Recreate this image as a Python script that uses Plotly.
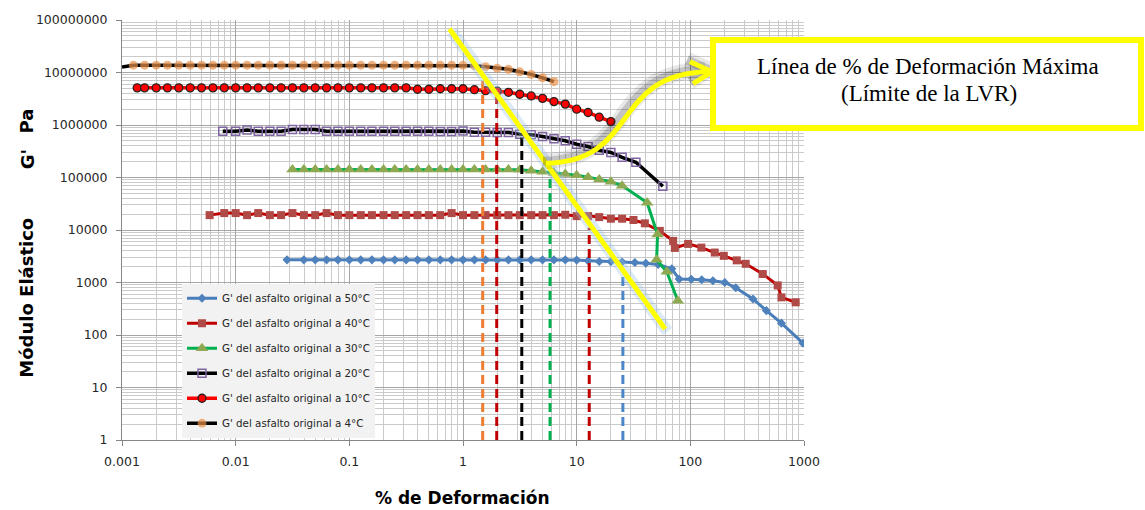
import plotly.graph_objects as go

# ---- Strain sweep data: % strain vs storage modulus G' (Pa) ----
strain_50 = [0.0283, 0.0398, 0.0501, 0.0631, 0.0794, 0.1, 0.126, 0.158, 0.2, 0.251, 0.316, 0.398,
             0.501, 0.631, 0.794, 1.0, 1.26, 1.58, 2.0, 2.51, 3.16, 3.98, 5.01, 6.31, 7.94, 10.0,
             12.6, 15.8, 20.0, 25.1, 32.5, 40.6, 52.1, 68.7, 79.7, 102, 126, 158, 201, 251, 356,
             467, 633, 980]
g_50 = [2700, 2700, 2700, 2700, 2700, 2700, 2700, 2700, 2700, 2700, 2700, 2700,
        2700, 2700, 2700, 2700, 2700, 2700, 2700, 2700, 2700, 2700, 2700, 2700, 2700, 2670,
        2600, 2520, 2500, 2450, 2400, 2320, 2200, 1820, 1160, 1150, 1130, 1080, 1000, 794, 486,
        291, 168, 70]

strain_40 = [0.0059, 0.00794, 0.01, 0.0126, 0.0158, 0.02, 0.0251, 0.0316, 0.0398, 0.0501, 0.0631,
             0.0794, 0.1, 0.126, 0.158, 0.2, 0.251, 0.316, 0.398, 0.501, 0.631, 0.794, 1.0, 1.26,
             1.58, 2.0, 2.51, 3.16, 3.98, 5.01, 6.31, 7.94, 10.0, 12.6, 15.8, 20.0, 25.1, 31.6,
             39.8, 53.9, 70.6, 73.1, 95.7, 125, 164, 197, 256, 307, 434, 587, 633, 845]
g_40 = [19200, 21000, 21000, 19200, 21000, 19200, 19200, 21000, 19200, 19200, 21000,
        19200, 19200, 19200, 19200, 19200, 19200, 19200, 19200, 19200, 19200, 21000, 19200, 19200,
        19200, 19200, 19200, 19200, 19200, 19200, 19200, 19500, 18400, 18400, 17600, 16400, 16400, 15500,
        13400, 9600, 6200, 4560, 5430, 4620, 3720, 3220, 2640, 2270, 1450, 880, 521, 419]

strain_30 = [0.0316, 0.0398, 0.0501, 0.0631, 0.0794, 0.1, 0.126, 0.158, 0.2, 0.251, 0.316, 0.398,
             0.501, 0.631, 0.794, 1.0, 1.26, 1.58, 2.0, 2.51, 3.16, 3.98, 5.01, 6.31, 7.94, 10.0,
             12.6, 15.8, 20.0, 25.1, 41.7, 51.5, 50.5, 62.1, 77.6]
g_30 = [142000, 142000, 142000, 142000, 142000, 142000, 142000, 142000, 142000, 142000, 142000, 142000,
        142000, 142000, 142000, 142000, 142000, 142000, 142000, 142000, 140000, 135000, 128000, 122000,
        117000, 110000, 101000, 92000, 83000, 70000, 33000, 8200, 2700, 1600, 450]

strain_20 = [0.0077, 0.01, 0.0126, 0.0158, 0.02, 0.0251, 0.0316, 0.0398, 0.0501, 0.0631, 0.0794, 0.1,
             0.126, 0.158, 0.2, 0.251, 0.316, 0.398, 0.501, 0.631, 0.794, 1.0, 1.26, 1.58, 2.0,
             2.51, 3.16, 3.98, 5.01, 6.31, 7.94, 10.0, 12.6, 15.8, 20.0, 25.1, 33.2, 57.3]
g_20 = [760000, 760000, 800000, 760000, 760000, 760000, 820000, 820000, 820000, 760000, 760000, 760000,
        760000, 760000, 760000, 760000, 760000, 760000, 760000, 750000, 750000, 770000, 730000, 730000,
        720000, 720000, 670000, 650000, 605000, 550000, 500000, 430000, 390000, 330000, 300000, 242000,
        195000, 68000]

strain_10 = [0.00136, 0.00158, 0.002, 0.00251, 0.00316, 0.00398, 0.00501, 0.00631, 0.00794, 0.01,
             0.0126, 0.0158, 0.02, 0.0251, 0.0316, 0.0398, 0.0501, 0.0631, 0.0794, 0.1, 0.126, 0.158,
             0.2, 0.251, 0.316, 0.398, 0.501, 0.631, 0.794, 1.0, 1.26, 1.58, 2.0, 2.51, 3.16, 3.98,
             5.01, 6.31, 7.94, 10.0, 12.6, 15.8, 20.0]
g_10 = [5100000, 5100000, 5100000, 5100000, 5100000, 5100000, 5100000, 5100000, 5100000, 5100000,
        5100000, 5100000, 5100000, 5100000, 5100000, 5100000, 5100000, 5100000, 5100000, 5100000,
        5100000, 5100000, 5100000, 5100000, 5100000, 4800000, 4800000, 4900000, 4900000, 4900000,
        4700000, 4500000, 4400000, 4200000, 3850000, 3580000, 3220000, 2790000, 2500000, 2000000,
        1730000, 1410000, 1160000]

strain_4 = [0.001, 0.00126, 0.00158, 0.002, 0.00251, 0.00316, 0.00398, 0.00501, 0.00631, 0.00794,
            0.01, 0.0126, 0.0158, 0.02, 0.0251, 0.0316, 0.0398, 0.0501, 0.0631, 0.0794, 0.1, 0.126,
            0.158, 0.2, 0.251, 0.316, 0.398, 0.501, 0.631, 0.794, 1.0, 1.26, 1.58, 2.0, 2.51, 3.16,
            3.98, 5.01, 6.31]
g_4 = [12700000, 13800000, 13800000, 13800000, 13800000, 13800000, 13800000, 13800000, 13800000,
       13800000, 13800000, 13800000, 13800000, 13800000, 13800000, 13800000, 13800000, 13800000,
       13800000, 13800000, 13800000, 13800000, 13800000, 13800000, 13800000, 13800000, 13800000,
       13800000, 13800000, 13800000, 13800000, 13400000, 12900000, 12000000, 11500000, 10300000,
       9200000, 7900000, 6700000]

series_names = ["G' del asfalto original a 50°C", "G' del asfalto original a 40°C",
                "G' del asfalto original a 30°C", "G' del asfalto original a 20°C",
                "G' del asfalto original a 10°C", "G' del asfalto original a 4°C"]

# Maximum strain of the linear viscoelastic range per temperature (dashed drop lines)
lvr_strain = [25.5, 12.9, 5.83, 3.29, 1.98, 1.49]
lvr_top = [1450, 11000, 100000, 580000, 4400000, 7300000]
lvr_colors = ["#4A86C8", "#C00000", "#00B050", "#000000", "#C00000", "#ED7D31"]

# Line joining the LVR limits
limit_x = [0.76, 60]
limit_y = [6.8e7, 130]

x_ticks = [0.001, 0.01, 0.1, 1, 10, 100, 1000]
x_ticktext = ["0.001", "0.01", "0.1", "1", "10", "100", "1000"]
y_ticks = [1, 10, 100, 1000, 10000, 100000, 1000000, 10000000, 100000000]
y_ticktext = ["1", "10", "100", "1000", "10000", "100000", "1000000", "10000000", "100000000"]

W, H = 1145, 510
ML, MR, MT, MB = 122, 341, 18, 70
PW, PH = W - ML - MR, H - MT - MB


def paper(px, py):
    return (px - ML) / PW, (H - MB - py) / PH


def path(cmds):
    out = []
    for c in cmds:
        if isinstance(c, str):
            out.append(c)
        else:
            x, y = paper(*c)
            out.append(f"{x:.5f},{y:.5f}")
    return " ".join(out)


fig = go.Figure()

styles = [
    dict(line=dict(color="#4A7EBB", width=3),
         marker=dict(symbol="diamond", size=7, color="#4F81BD", line=dict(width=0))),
    dict(line=dict(color="#C00000", width=3),
         marker=dict(symbol="square", size=8, color="#B04A47", line=dict(width=0))),
    dict(line=dict(color="#00B050", width=3),
         marker=dict(symbol="triangle-up", size=11, color="#8FA852", line=dict(width=0))),
    dict(line=dict(color="#000000", width=3.5),
         marker=dict(symbol="square-open", size=8, color="#7F64A2", line=dict(width=1.5))),
    dict(line=dict(color="#FF0000", width=3.5),
         marker=dict(symbol="circle", size=8, color="#FF0000", line=dict(color="#222222", width=1.3))),
    dict(line=dict(color="#000000", width=3.5),
         marker=dict(symbol="circle", size=9, color="#E8914A", line=dict(width=0))),
]
data = [(strain_50, g_50), (strain_40, g_40), (strain_30, g_30),
        (strain_20, g_20), (strain_10, g_10), (strain_4, g_4)]

for i, ((xs, ys), name, st) in enumerate(zip(data, series_names, styles)):
    mk = dict(st["marker"])
    if i == 5:
        mk["size"] = [0] + [9] * (len(xs) - 1)
    fig.add_trace(go.Scatter(x=xs, y=ys, mode="lines+markers", name=name,
                             line=st["line"], marker=mk, legendgroup=f"g{i}"))

# dashed drop lines at the LVR limit
for s, top, col in zip(lvr_strain, lvr_top, lvr_colors):
    fig.add_trace(go.Scatter(x=[s, s], y=[1, top], mode="lines", showlegend=False,
                             hoverinfo="skip",
                             line=dict(color=col, width=3, dash="9px,5px")))

# limit line with soft blue glow
fig.add_trace(go.Scatter(x=[v * 1.05 for v in limit_x], y=[v * 0.9 for v in limit_y],
                         mode="lines", showlegend=False, hoverinfo="skip",
                         line=dict(color="rgba(155,194,236,0.35)", width=12)))
fig.add_trace(go.Scatter(x=limit_x, y=limit_y, mode="lines", showlegend=False,
                         hoverinfo="skip", line=dict(color="#FFFF00", width=5)))

minor_x = [m * 10.0 ** e for e in range(-3, 3) for m in range(2, 10)]
minor_y = [m * 10.0 ** e for e in range(0, 8) for m in range(2, 10)]
tickfont = dict(family="DejaVu Sans", size=12.5, color="#262626")

fig.update_xaxes(type="log", range=[-3, 3], tickvals=x_ticks, ticktext=x_ticktext,
                 showgrid=True, gridcolor="#A6A6A6", gridwidth=1, zeroline=False,
                 showline=True, linecolor="#868686", linewidth=1,
                 ticks="outside", ticklen=5, tickcolor="#868686", tickfont=tickfont,
                 ticklabelstandoff=5,
                 minor=dict(tickvals=minor_x, showgrid=True, gridcolor="#CACACA", ticks=""))
fig.update_yaxes(type="log", range=[0, 8], tickvals=y_ticks, ticktext=y_ticktext,
                 showgrid=True, gridcolor="#A6A6A6", gridwidth=1, zeroline=False,
                 showline=True, linecolor="#868686", linewidth=1,
                 ticks="outside", ticklen=5, tickcolor="#868686", tickfont=tickfont,
                 ticklabelstandoff=6,
                 minor=dict(tickvals=minor_y, showgrid=True, gridcolor="#CACACA", ticks=""))

lx, ly = paper(182, 283)
fig.update_layout(
    width=W, height=H, margin=dict(l=ML, r=MR, t=MT, b=MB, pad=0),
    paper_bgcolor="white", plot_bgcolor="white",
    legend=dict(x=lx, y=ly, xanchor="left", yanchor="top", bgcolor="#F2F2F2",
                font=dict(family="DejaVu Sans", size=10.3, color="#262626"),
                tracegroupgap=6, traceorder="grouped", itemwidth=30),
)

# curved arrow pointing to the note box, with a soft shadow
curve = path(["M", (546, 162), "C", (640, 160), (610, 72), (708, 70)])
head = path(["M", (690, 60), "L", (712, 70), "L", (693, 82)])
shadow_curve = path(["M", (543, 160), "C", (637, 158), (607, 70), (705, 68)])
shadow_head = path(["M", (687, 58), "L", (709, 68), "L", (690, 80)])
for p in (shadow_curve, shadow_head):
    fig.add_shape(type="path", path=p, xref="paper", yref="paper",
                  line=dict(color="rgba(30,30,30,0.10)", width=16))
    fig.add_shape(type="path", path=p, xref="paper", yref="paper",
                  line=dict(color="rgba(30,30,30,0.18)", width=9))
for p in (curve, head):
    fig.add_shape(type="path", path=p, xref="paper", yref="paper",
                  line=dict(color="#FFFF00", width=5))

# note box
bx0, by0 = paper(713, 126.5)
bx1, by1 = paper(1141, 38)
fig.add_shape(type="rect", xref="paper", yref="paper", x0=bx0, y0=by0, x1=bx1, y1=by1,
              line=dict(color="#FFFF00", width=6), fillcolor="white")

serif = dict(family="Liberation Serif", size=23, color="#000000")
for txt, (cx, cy) in [("Línea de % de Deformación Máxima", (928, 65)),
                      ("(Límite de la LVR)", (929, 92))]:
    ax_, ay_ = paper(cx, cy)
    fig.add_annotation(x=ax_, y=ay_, xref="paper", yref="paper", text=txt, showarrow=False,
                       xanchor="center", yanchor="middle", font=serif)

title_font = dict(family="DejaVu Sans", size=17, color="#000000", weight="bold")
tx, ty = paper(462, 498)
fig.add_annotation(x=tx, y=ty, xref="paper", yref="paper", text="<b>% de Deformación</b>",
                   showarrow=False, xanchor="center", yanchor="middle", font=title_font)
for txt, cy in [("Módulo Elástico", 297), ("G'", 158), ("Pa", 120)]:
    ax_, ay_ = paper(27, cy)
    fig.add_annotation(x=ax_, y=ay_, xref="paper", yref="paper", text=f"<b>{txt}</b>",
                       showarrow=False, textangle=-90, xanchor="center", yanchor="middle",
                       font=dict(family="DejaVu Sans", size=18, color="#000000", weight="bold"))

fig.write_html("out.html")
